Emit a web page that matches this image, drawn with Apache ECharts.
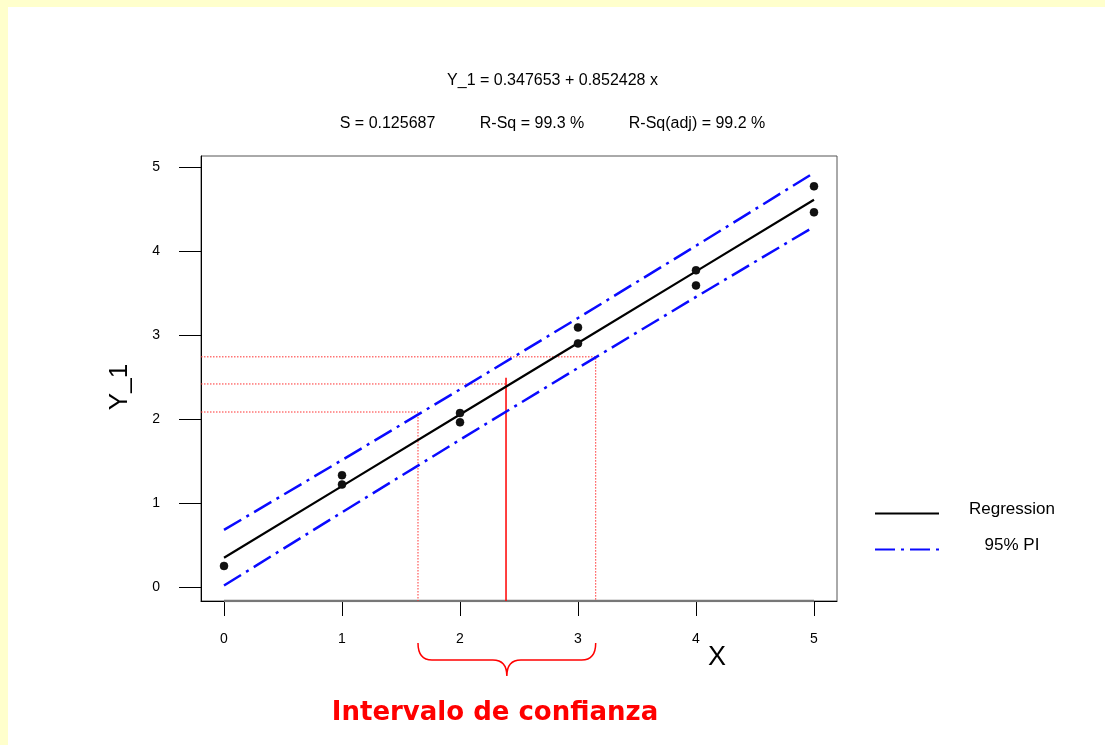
<!DOCTYPE html>
<html>
<head>
<meta charset="utf-8">
<script src="https://cdn.jsdelivr.net/npm/echarts@6/dist/echarts.min.js"></script>
<style>
html,body{margin:0;padding:0;background:#ffffff;}
#c{width:1105px;height:745px;}
</style>
</head>
<body>
<div id="c"></div>
<script>
// ---- data ----
const obsX = [0, 1, 1, 2, 2, 3, 3, 4, 4, 5, 5];
const obsY = [0.25, 1.33, 1.22, 2.07, 1.96, 3.09, 2.90, 3.77, 3.59, 4.77, 4.46];
const fitX = [0, 1, 2, 3, 4, 5];
const fitY = [0.348, 1.200, 2.053, 2.905, 3.757, 4.610];
const piUpper = [0.679, 1.511, 2.352, 3.202, 4.062, 4.931];
const piLower = [0.017, 0.889, 1.753, 2.608, 3.453, 4.289];
const tickVals = [0, 1, 2, 3, 4, 5];
const xMin = -0.195, xMax = 5.195;
const yMin = -0.167, yMax = 5.131;
// confidence-interval guides (x values and y levels)
const ciX = [1.644, 2.39, 3.15];
const ciY = [2.083, 2.417, 2.74];
const ciMidTop = 2.49;
const titleLine1 = 'Y_1 = 0.347653 + 0.852428 x';
const titleLine2 = 'S = 0.125687          R-Sq = 99.3 %          R-Sq(adj) = 99.2 %';
const seriesNames = ['Regression', '95% PI'];
const bottomLabel = 'Intervalo de confianza';

const pts = obsX.map((x, i) => [x, obsY[i]]);
const fit = fitX.map((x, i) => [x, fitY[i]]);
const up = fitX.map((x, i) => [x, piUpper[i]]);
const lo = fitX.map((x, i) => [x, piLower[i]]);

const chart = echarts.init(document.getElementById('c'), null, {renderer: 'canvas'});
const FONT = 'Liberation Sans, Arial, sans-serif';
const dashDot = [20, 6, 3, 6];

const option = {
  backgroundColor: '#ffffff',
  animation: false,
  textStyle: {fontFamily: FONT},
  title: [
    {text: titleLine1, left: 'center', top: 68, textStyle: {fontSize: 16, fontWeight: 'normal', color: '#000', fontFamily: FONT}},
    {text: titleLine2, left: 'center', top: 111, textStyle: {fontSize: 16, fontWeight: 'normal', color: '#000', fontFamily: FONT}}
  ],
  grid: {left: 201, top: 156, right: 268, bottom: 144, show: true, borderColor: '#555', borderWidth: 1},
  legend: {
    orient: 'vertical', left: 869, top: 496, itemWidth: 64, itemHeight: 14, itemGap: 18,
    selectedMode: false,
    data: seriesNames,
    itemStyle: {opacity: 0},
    formatter: n => '{a|' + n + '}',
    textStyle: {
      color: '#000', fontSize: 17, fontFamily: FONT, padding: [0, 0, 8, 24],
      rich: {a: {width: 88, align: 'center', fontSize: 17, fontFamily: FONT, color: '#000'}}
    }
  },
  xAxis: {
    type: 'value', min: xMin, max: xMax,
    axisLine: {show: true, onZero: false, lineStyle: {color: '#000', width: 1}},
    axisTick: {show: true, inside: false, customValues: tickVals, length: 15, lineStyle: {color: '#000', width: 1}},
    axisLabel: {customValues: tickVals, margin: 31, fontSize: 14, color: '#000', fontFamily: FONT},
    splitLine: {show: false}
  },
  yAxis: {
    type: 'value', min: yMin, max: yMax,
    axisLine: {show: true, onZero: false, lineStyle: {color: '#000', width: 1}},
    axisTick: {show: true, inside: false, customValues: tickVals, length: 22, lineStyle: {color: '#000', width: 1}},
    axisLabel: {customValues: tickVals, margin: 41, fontSize: 14, color: '#000', fontFamily: FONT},
    splitLine: {show: false}
  },
  graphic: [
    {type: 'rect', shape: {x: 0, y: 0, width: 1105, height: 7}, style: {fill: '#ffffcc'}, silent: true},
    {type: 'rect', shape: {x: 0, y: 0, width: 8, height: 745}, style: {fill: '#ffffcc'}, silent: true},
    {type: 'text', x: 120, y: 387, rotation: Math.PI / 2, style: {text: 'Y_1', font: '26px ' + FONT, fill: '#000', align: 'center', verticalAlign: 'middle'}},
    {type: 'text', x: 717, y: 658, style: {text: 'X', font: '27px ' + FONT, fill: '#000', align: 'center', verticalAlign: 'middle'}},
    {type: 'text', x: 495, y: 713, style: {text: bottomLabel, font: 'bold 26px "DejaVu Sans", Verdana, sans-serif', fill: '#ff0000', align: 'center', verticalAlign: 'middle'}}
  ],
  series: [
    {name: 'axisSeg', type: 'line', data: [[tickVals[0], yMin], [tickVals[5], yMin]], symbol: 'none', silent: true,
      lineStyle: {color: '#777', width: 2.5}, z: 1},
    {name: 'guideLow', type: 'line', data: [[xMin, ciY[0]], [ciX[0], ciY[0]], [ciX[0], yMin]], symbol: 'none', silent: true,
      lineStyle: {color: '#ff3030', width: 1, type: [1.5, 1.5]}, z: 2},
    {name: 'guideMid', type: 'line', data: [[xMin, ciY[1]], [ciX[1], ciY[1]]], symbol: 'none', silent: true,
      lineStyle: {color: '#ff3030', width: 1, type: [1.5, 1.5]}, z: 2},
    {name: 'guideMidV', type: 'line', data: [[ciX[1], ciMidTop], [ciX[1], yMin]], symbol: 'none', silent: true,
      lineStyle: {color: '#ff0000', width: 1.5}, z: 2},
    {name: 'guideHigh', type: 'line', data: [[xMin, ciY[2]], [ciX[2], ciY[2]], [ciX[2], yMin]], symbol: 'none', silent: true,
      lineStyle: {color: '#ff3030', width: 1, type: [1.5, 1.5]}, z: 2},
    {name: seriesNames[1], type: 'line', data: up, symbol: 'none', lineStyle: {color: '#0a0aff', width: 2.5, type: dashDot}, itemStyle: {color: '#0a0aff'}, z: 3},
    {name: seriesNames[1] + ' lower', type: 'line', data: lo, symbol: 'none', lineStyle: {color: '#0a0aff', width: 2.5, type: dashDot}, itemStyle: {color: '#0a0aff'}, z: 3},
    {name: seriesNames[0], type: 'line', data: fit, symbol: 'none', lineStyle: {color: '#000', width: 2.2}, itemStyle: {color: '#000'}, z: 4},
    {name: 'obs', type: 'scatter', data: pts, symbol: 'circle', symbolSize: 8, itemStyle: {color: '#111', opacity: 1, borderColor: '#000', borderWidth: 0.5}, z: 5},
    {name: 'brace', type: 'custom', coordinateSystem: 'cartesian2d', clip: false, silent: true,
      data: [[ciX[0], yMin, ciX[2]]],
      encode: {x: [0, 2], y: 1},
      renderItem: function (params, api) {
        const a = api.coord([api.value(0), api.value(1)]);
        const b = api.coord([api.value(2), api.value(1)]);
        const x1 = a[0], x2 = b[0], base = a[1];
        const t = base + 42, h = base + 59, tip = base + 75, m = (x1 + x2) / 2, r = 14;
        const d = 'M' + x1 + ',' + t + ' Q' + x1 + ',' + h + ' ' + (x1 + r) + ',' + h +
          ' L' + (m - r) + ',' + h + ' Q' + m + ',' + h + ' ' + m + ',' + tip +
          ' Q' + m + ',' + h + ' ' + (m + r) + ',' + h +
          ' L' + (x2 - r) + ',' + h + ' Q' + x2 + ',' + h + ' ' + x2 + ',' + t;
        return {type: 'path', shape: {pathData: d}, style: {stroke: '#ff0000', fill: 'none', lineWidth: 1.5}};
      }, z: 5}
  ]
};
chart.setOption(option);
</script>
</body>
</html>
